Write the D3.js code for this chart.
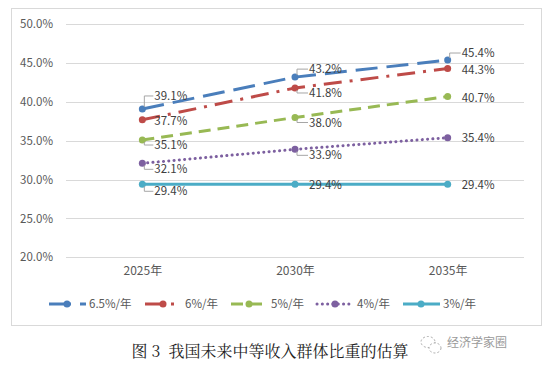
<!DOCTYPE html>
<html>
<head>
<meta charset="utf-8">
<script src="https://cdn.jsdelivr.net/npm/d3@7"></script>
<style>
  body { margin: 0; background: #fff; }
  text { font-family: "Noto Sans CJK SC", "Noto Sans", sans-serif; }
</style>
</head>
<body>
<script>
// data
const years = ["2025年", "2030年", "2035年"];
const seriesNames = ["6.5%/年", "6%/年", "5%/年", "4%/年", "3%/年"];
const s65 = [39.1, 43.2, 45.4];
const s6 = [37.7, 41.8, 44.3];
const s5 = [35.1, 38.0, 40.7];
const s4 = [32.1, 33.9, 35.4];
const s3 = [29.4, 29.4, 29.4];
const yTicks = [20, 25, 30, 35, 40, 45, 50];
const caption = "图 3  我国未来中等收入群体比重的估算";

const width = 554, height = 368;
const svg = d3.select("body").append("svg")
  .attr("width", width).attr("height", height);

// chart frame
svg.append("rect")
  .attr("x", 11.5).attr("y", 8.5)
  .attr("width", 530).attr("height", 317)
  .attr("fill", "#fff").attr("stroke", "#d9d9d9");

const x = d3.scalePoint().domain(years).range([66, 524]).padding(0.5);
const y = d3.scaleLinear().domain([20, 50]).range([257.3, 24.3]);

// gridlines
svg.append("g").selectAll("line").data(yTicks).enter().append("line")
  .attr("x1", 66).attr("x2", 524)
  .attr("y1", d => Math.round(y(d)) + 0.5).attr("y2", d => Math.round(y(d)) + 0.5)
  .attr("stroke", "#d9d9d9");

// axes (no lines)
const yAxis = svg.append("g").attr("transform", "translate(56,0)")
  .call(d3.axisLeft(y).tickValues(yTicks).tickSize(0).tickFormat(d => d.toFixed(1) + "%"));
const xAxis = svg.append("g").attr("transform", "translate(0,261)")
  .call(d3.axisBottom(x).tickSize(0));
[yAxis, xAxis].forEach(a => {
  a.select(".domain").remove();
  a.selectAll("text").attr("fill", "#595959").style("font-size", "11.5px")
    .style("font-family", '"Noto Sans CJK SC", sans-serif');
});
yAxis.selectAll("text").attr("dx", "0");
xAxis.selectAll("text").style("font-size", "12px").attr("dy", "0.9em");

const series = [
  { name: seriesNames[0], values: s65, color: "#4a7ebb", dash: "22 9" },
  { name: seriesNames[1], values: s6, color: "#be4b48", dash: "18 8 3 8" },
  { name: seriesNames[2], values: s5, color: "#98b954", dash: "12 7" },
  { name: seriesNames[3], values: s4, color: "#7d60a0", dash: "0.1 5.2", cap: "round" },
  { name: seriesNames[4], values: s3, color: "#4bacc6", dash: null }
];

// label offsets [dx, dy] relative to each point, per series and year
const labelOff = [
  [[12, -13], [14, -8], [14, -7]],
  [[12, 1], [14, 5], [14, 1]],
  [[12, 5], [14, 5], [14, 1]],
  [[12, 6], [14, 6], [14, 0]],
  [[12, 7], [14, 1], [14, 1]]
];

const line = d3.line().x((d, i) => x(years[i])).y(d => y(d));

series.forEach((s, si) => {
  const g = svg.append("g");
  g.append("path")
    .datum(s.values)
    .attr("d", line)
    .attr("fill", "none")
    .attr("stroke", s.color)
    .attr("stroke-width", 3)
    .attr("stroke-linecap", s.cap || "butt")
    .attr("stroke-dasharray", s.dash);
  g.selectAll("circle").data(s.values).enter().append("circle")
    .attr("cx", (d, i) => x(years[i]))
    .attr("cy", d => y(d))
    .attr("r", 3.5)
    .attr("fill", s.color);

  s.values.forEach((v, i) => {
    const px = x(years[i]), py = y(v);
    const [dx, dy] = labelOff[si][i];
    const lx = px + dx, ly = py + dy;
    // leader line when the label is pushed away from the point
    if (Math.abs(dy) > 3) {
      g.append("path")
        .attr("d", `M${px + 2},${py + (dy > 0 ? 2 : -2)} V${ly} H${lx - 1}`)
        .attr("fill", "none").attr("stroke", "#a6a6a6").attr("stroke-width", 1);
    }
    g.append("text")
      .attr("x", lx).attr("y", ly).attr("dy", "0.35em")
      .attr("fill", "#404040")
      .style("font-size", "11.5px")
      .text(v.toFixed(1) + "%");
  });
});

// legend
const legendX = [49, 145, 231, 317, 403];
const legend = svg.append("g").attr("transform", "translate(0,304)");
series.forEach((s, i) => {
  const lg = legend.append("g").attr("transform", `translate(${legendX[i]},0)`);
  lg.append("line")
    .attr("x1", 0).attr("x2", 37).attr("y1", 0).attr("y2", 0)
    .attr("stroke", s.color).attr("stroke-width", 3)
    .attr("stroke-linecap", s.cap || "butt")
    .attr("stroke-dasharray", s.dash);
  lg.append("circle").attr("cx", 18).attr("cy", 0).attr("r", 3.5).attr("fill", s.color);
  lg.append("text").attr("x", 40).attr("y", 0).attr("dy", "0.35em")
    .attr("fill", "#595959").style("font-size", "11.5px").text(s.name);
});

// caption
svg.append("text")
  .attr("x", 270).attr("y", 351).attr("dy", "0.35em")
  .attr("text-anchor", "middle")
  .attr("fill", "#222")
  .style("font-size", "16px")
  .style("white-space", "pre")
  .style("font-family", '"Noto Serif CJK SC", "Noto Sans CJK SC", serif')
  .text(caption);

// watermark
const wm = svg.append("g").attr("transform", "translate(428,345)");
wm.append("ellipse").attr("cx", 0).attr("cy", -3).attr("rx", 7).attr("ry", 5.5)
  .attr("fill", "none").attr("stroke", "#aaa").attr("stroke-dasharray", "2 2");
wm.append("ellipse").attr("cx", 7).attr("cy", 3).attr("rx", 6).attr("ry", 5)
  .attr("fill", "#fff").attr("stroke", "#aaa").attr("stroke-dasharray", "2 2");
wm.append("text").attr("x", 19).attr("y", -2).attr("dy", "0.35em")
  .attr("fill", "#9a9a9a").style("font-size", "12px").text("经济学家圈");
</script>
</body>
</html>
